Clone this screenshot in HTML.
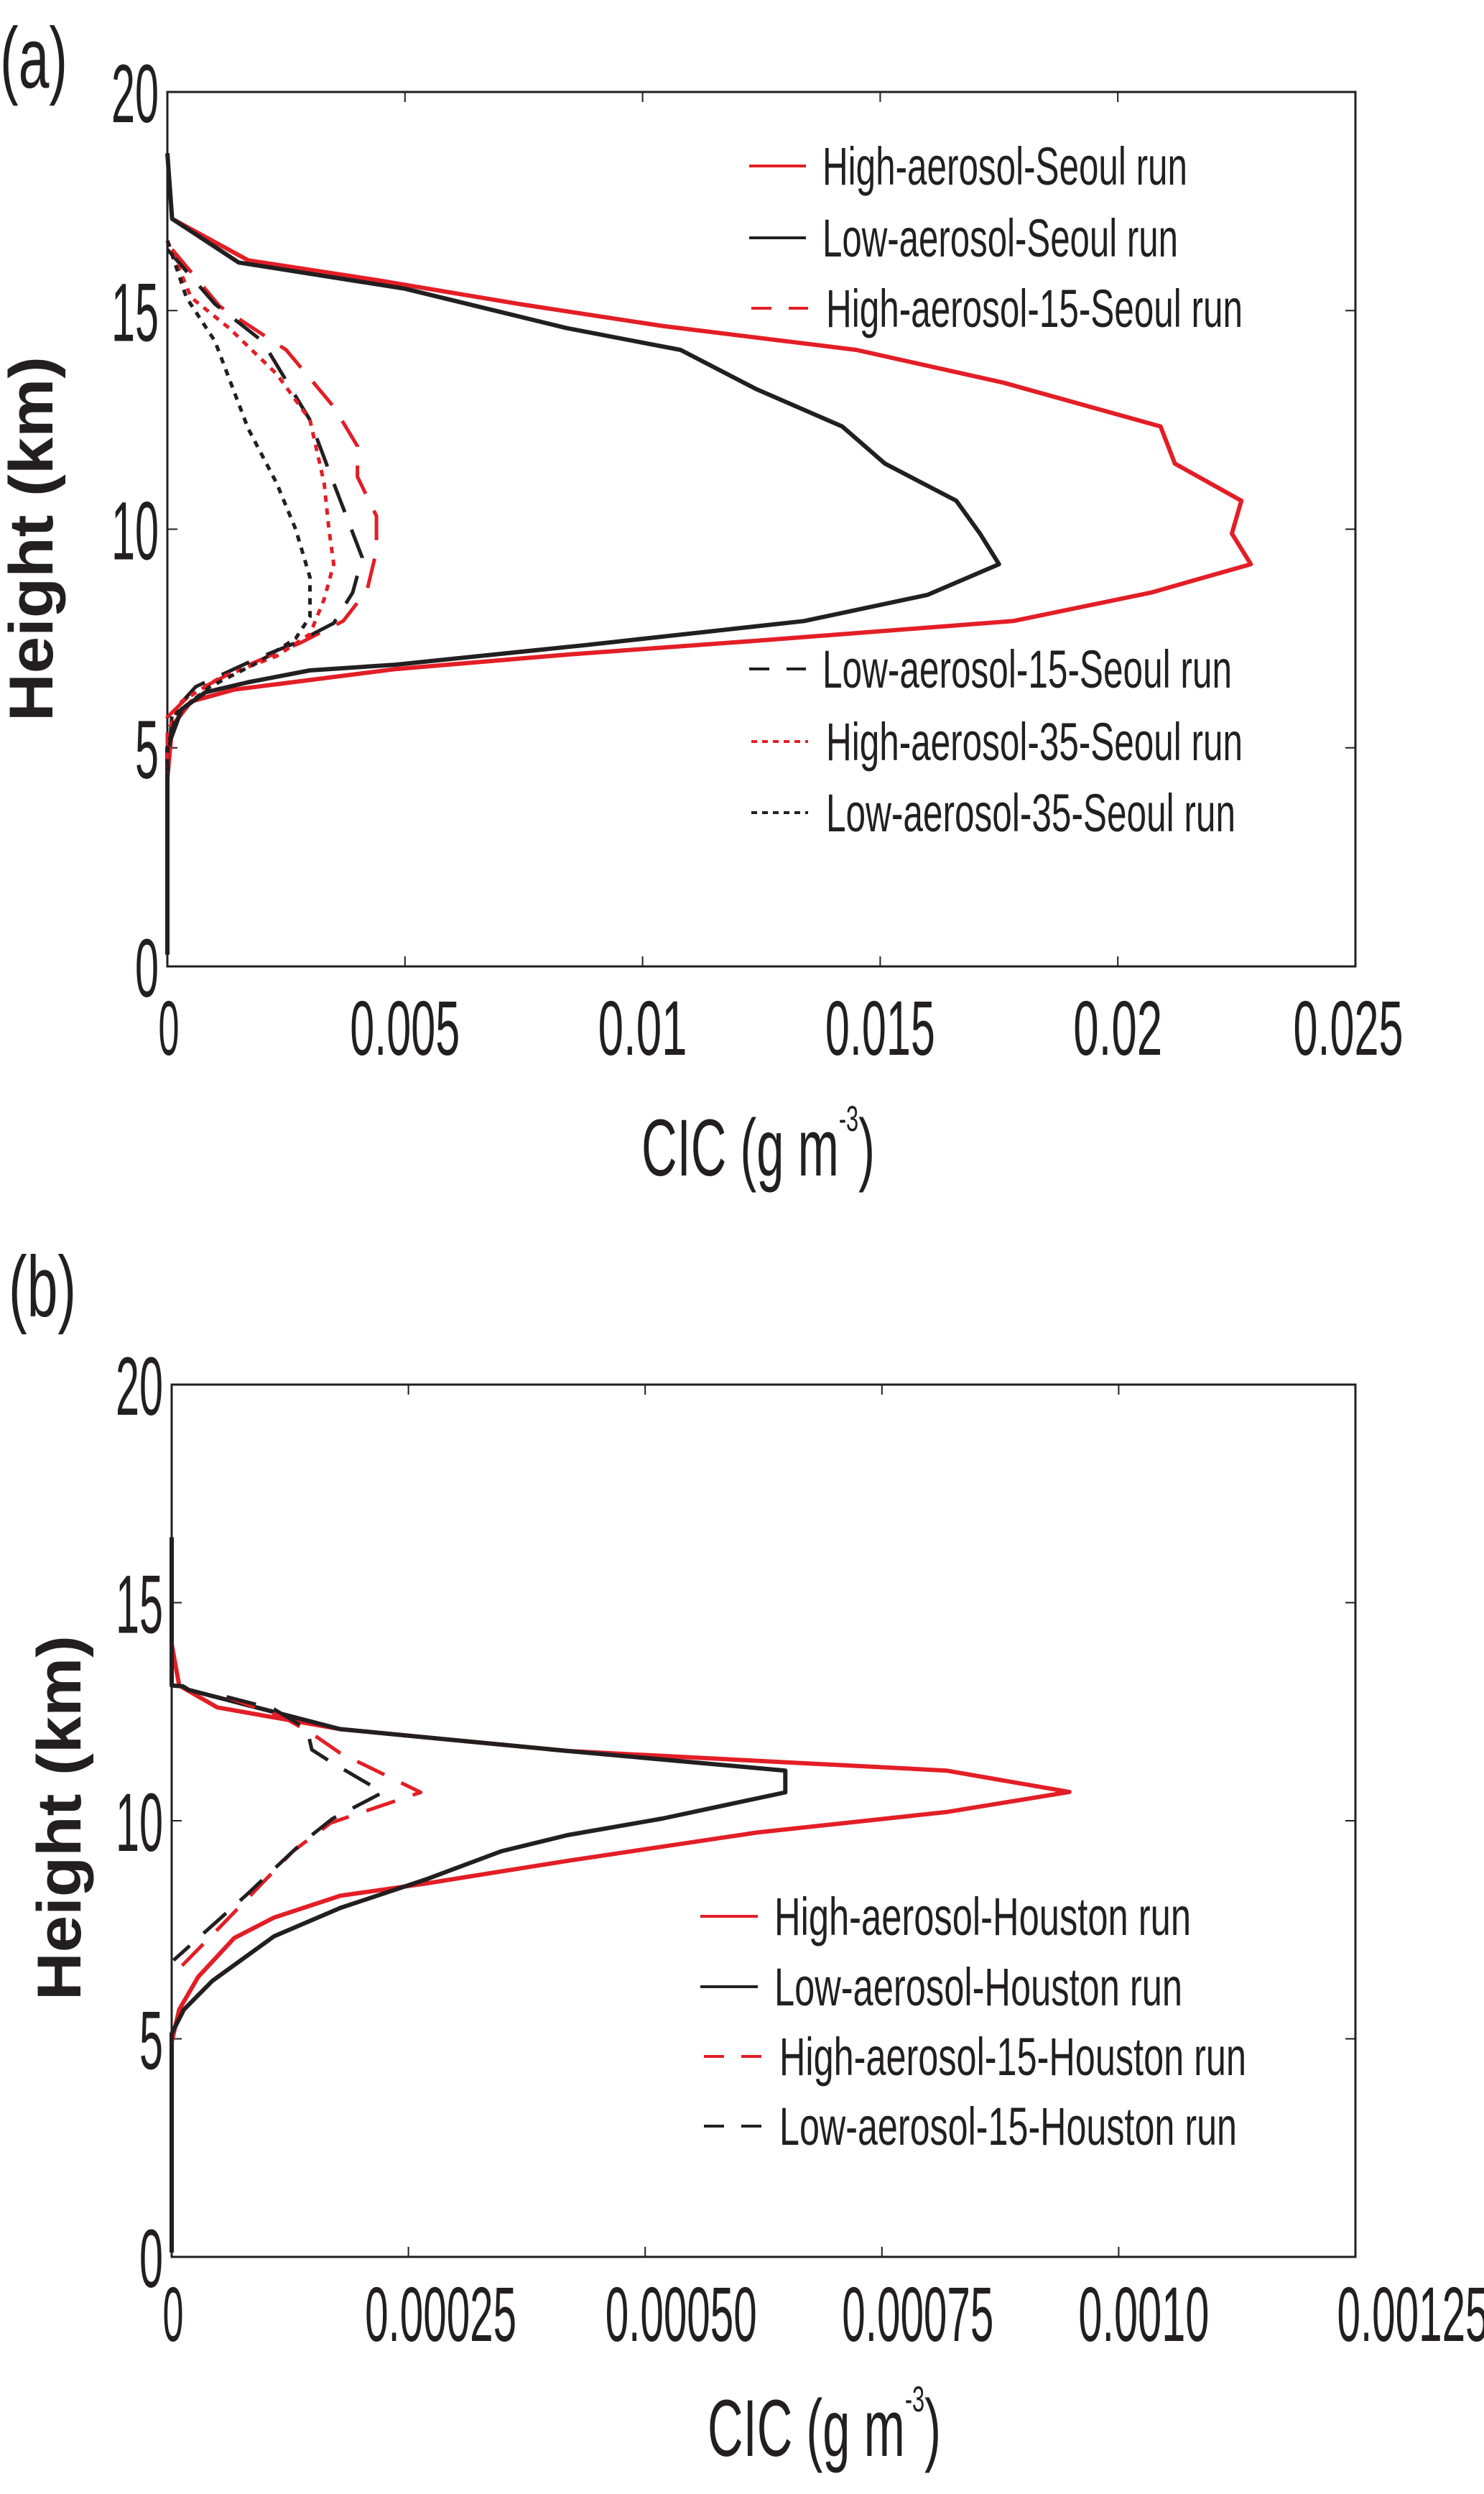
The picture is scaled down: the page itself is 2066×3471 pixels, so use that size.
<!DOCTYPE html>
<html><head><meta charset="utf-8">
<style>
html,body{margin:0;padding:0;background:#fff;}
svg{display:block;}
text{font-family:"Liberation Sans",sans-serif;fill:#231f20;}
</style></head>
<body>
<svg id="fig" width="2066" height="3471" viewBox="0 0 2066 3471" xmlns="http://www.w3.org/2000/svg">
<g id="pa"></g>
<g id="pb"></g>
</svg>
<script>
// ---- Panel (a) data ----
const aXTicks = [0, 0.005, 0.01, 0.015, 0.02, 0.025];
const aXTickLabels = ["0", "0.005", "0.01", "0.015", "0.02", "0.025"];
const aYTicks = [0, 5, 10, 15, 20];
const aYTickLabels = ["0", "5", "10", "15", "20"];
const aHighH = [17.1,16.15,15.7,15.15,14.65,14.1,13.35,12.35,11.5,10.65,9.9,9.2,8.55,7.9,7.45,7.13,6.8,6.55,6.33,6.06,5.5,4.3,0.27];
const aHighV = [0.0001,0.0017,0.0044,0.0074,0.0104,0.0145,0.0176,0.0209,0.0212,0.0226,0.0224,0.0228,0.0207,0.0178,0.0124,0.0084,0.0048,0.003,0.0014,0.0005,0.0001,0,0];
const aLowH = [18.6,17.1,16.1,15.5,14.6,14.1,13.2,12.35,11.5,10.65,9.9,9.2,8.5,7.9,7.35,6.9,6.77,6.5,6.27,5.88,5.0,0.27];
const aLowV = [0,0.0001,0.0015,0.005,0.0084,0.0108,0.0124,0.0142,0.0151,0.0166,0.0171,0.0175,0.016,0.0134,0.0088,0.0048,0.003,0.0017,0.0008,0.0003,0,0];
const aHigh15H = [16.4,15.1,14.1,12.8,11.9,11.2,10.3,9.5,8.6,7.9,7.4,6.8,6.24,5.7,4.3];
const aHigh15V = [0.0001,0.0011,0.0025,0.0035,0.004,0.004,0.0044,0.0044,0.0042,0.0037,0.0028,0.0015,0.0005,0,0];
const aLow15H = [16.4,15.15,14.3,12.5,11.05,9.35,8.55,7.85,7.4,7.05,6.4,5.8,4.3];
const aLow15V = [0,0.001,0.002,0.003,0.0035,0.0041,0.0039,0.0035,0.0027,0.0019,0.0006,0.0001,0];
const aHigh35H = [16.6,15.3,14.6,13.55,12.5,11.05,10.0,9.2,8.4,7.6,7.1,6.6,6.06,5.35,4.2];
const aHigh35V = [0,0.0005,0.0013,0.0023,0.003,0.0033,0.0034,0.0035,0.0033,0.003,0.0023,0.0011,0.0003,0,0];
const aLow35H = [16.6,15.3,14.3,12.3,11.05,10.0,8.9,8.0,7.5,6.95,6.4,5.8,5.0,0.27];
const aLow35V = [0,0.0004,0.001,0.0017,0.0023,0.0027,0.003,0.003,0.0027,0.0019,0.0009,0.0002,0,0];

// ---- Panel (b) data ----
const bXTicks = [0, 0.00025, 0.0005, 0.00075, 0.001, 0.00125];
const bXTickLabels = ["0", "0.00025", "0.00050", "0.00075", "0.0010", "0.00125"];
const bYTicks = [0, 5, 10, 15, 20];
const bYTickLabels = ["0", "5", "10", "15", "20"];
const bHighH = [15.9,14.05,13.1,12.6,12.1,11.6,11.15,10.66,10.2,9.73,9.08,8.56,8.28,7.78,7.31,6.42,5.67,4.93,0.1];
const bHighV = [0,0,0.000008,0.000048,0.000178,0.000418,0.000818,0.000948,0.000818,0.000618,0.000418,0.000268,0.000178,0.000108,0.000066,0.000028,0.000008,0,0];
const bLowH = [16.5,13.1,13.08,13.0,12.1,11.6,11.15,10.65,10.05,9.67,9.3,8.65,8.0,7.35,6.33,5.67,5.12,0.1];
const bLowV = [0,0,0.000012,0.000018,0.000178,0.000418,0.000648,0.000648,0.000518,0.000418,0.000348,0.000268,0.000178,0.000108,0.000043,0.000013,0,0];
const bHigh15H = [12.84,12.37,12.0,11.55,10.65,9.95,9.3,7.72,6.5];
const bHigh15V = [0.000058,0.000118,0.000148,0.000178,0.000263,0.000168,0.000128,0.000058,0.000003];
const bLow15H = [12.84,12.56,12.1,11.63,11.35,10.65,10.05,9.5,8.28,6.8];
const bLow15V = [0.000058,0.000108,0.000143,0.000148,0.000168,0.000223,0.00017,0.000138,0.000078,0.000002];

const NS = "http://www.w3.org/2000/svg";
function mk(parent, tag, attrs){ const e=document.createElementNS(NS,tag); for(const k in attrs) e.setAttribute(k,attrs[k]); parent.appendChild(e); return e; }

function drawPanel(g, P){
  const xs = v => P.x0 + (v - P.xmin)/(P.xmax-P.xmin)*(P.x1-P.x0);
  const ys = v => P.y0 - (v/20)*(P.y0-P.y1);
  const frame = mk(g,'rect',{x:P.x0,y:P.y1,width:P.x1-P.x0,height:P.y0-P.y1,fill:'none',stroke:'#231f20','stroke-width':3});
  
  
  P.xTicks.forEach((t,i)=>{
    const x=xs(t);
    const tk=mk(g,'path',{d:`M${x},${P.y0}v-14M${x},${P.y1}v14`,stroke:'#231f20','stroke-width':2});
    
    
    const lab=P.xTickLabels[i];
    const tx=mk(g,'text',{x:x+P.xLabOff[i],y:P.xLabY,'font-size':108,'text-anchor':'middle',textLength:lab.length*29+(lab.length>1?8:0),lengthAdjust:'spacingAndGlyphs'});
    tx.textContent=lab;
    
    
  });
  P.yTicks.forEach((t,i)=>{
    const y=ys(t);
    const tk=mk(g,'path',{d:`M${P.x0},${y}h14M${P.x1},${y}h-14`,stroke:'#231f20','stroke-width':2});
    
    
    const lab=P.yTickLabels[i];
    const tx=mk(g,'text',{x:P.x0-12,y:y+42,'font-size':115,'text-anchor':'end',textLength:lab.length*33,lengthAdjust:'spacingAndGlyphs'});
    tx.textContent=lab;
    
    
  });
  P.series.forEach(s=>{
    const d=s.h.map((h,i)=>(i?'L':'M')+xs(s.v[i]).toFixed(1)+','+ys(h).toFixed(1)).join('');
    const p=mk(g,'path',{d:d,fill:'none',stroke:s.c,'stroke-width':s.w,'stroke-dasharray':s.dash,'stroke-linejoin':'round'});
    
    
  });
  P.legend.forEach(L=>{
    const ln=mk(g,'line',{x1:L.lx0,x2:L.lx1,y1:L.y,y2:L.y,stroke:L.c,'stroke-width':4,'stroke-dasharray':L.dash});
    
    
    const tx=mk(g,'text',{x:L.tx,y:L.y+26,'font-size':74,textLength:L.tw,lengthAdjust:'spacingAndGlyphs'});
    tx.textContent=L.label;
    
    
  });
  const pl=mk(g,'text',{x:P.tag.x,y:P.tag.y,'font-size':120,textLength:P.tag.w,lengthAdjust:'spacingAndGlyphs'});
  pl.textContent=P.tag.t;
  
  
  const yt=mk(g,'text',{x:0,y:0,'font-size':86,'font-weight':'bold','text-anchor':'middle',textLength:508,lengthAdjust:'spacingAndGlyphs',transform:`translate(${P.yt.x},${P.yt.y}) rotate(-90)`});
  yt.textContent='Height (km)';
  
  
  const xt=mk(g,'text',{x:P.xt.x,y:P.xt.y,'font-size':112,textLength:325,lengthAdjust:'spacingAndGlyphs'});
  
  
  xt.innerHTML='CIC (g m<tspan dy="-62" font-size="50">-3</tspan><tspan dy="62">)</tspan>';
}

const RED='#e31e26', BLK='#231f20', LD='42 26', SD='9 9';
drawPanel(document.getElementById('pa'),{
  x0:233,x1:1887,y0:1345,y1:128,xmin:0,xmax:0.025,
  xTicks:aXTicks,xTickLabels:aXTickLabels,yTicks:aYTicks,yTickLabels:aYTickLabels,
  xLabOff:[2,0,0,0,0,-10],xLabY:1468,
  series:[
    {name:'high-aerosol-seoul-line',h:aHighH,v:aHighV,c:RED,w:6,dash:'none'},
    {name:'low-aerosol-seoul-line',h:aLowH,v:aLowV,c:BLK,w:6,dash:'none'},
    {name:'high-aerosol-15-seoul-line',h:aHigh15H,v:aHigh15V,c:RED,w:5,dash:LD},
    {name:'low-aerosol-15-seoul-line',h:aLow15H,v:aLow15V,c:BLK,w:5,dash:LD},
    {name:'high-aerosol-35-seoul-line',h:aHigh35H,v:aHigh35V,c:RED,w:5,dash:SD},
    {name:'low-aerosol-35-seoul-line',h:aLow35H,v:aLow35V,c:BLK,w:5,dash:SD}
  ],
  legend:[
    {label:'High-aerosol-Seoul run',y:231,lx0:1043,lx1:1122,c:RED,dash:'none',tx:1145,tw:508},
    {label:'Low-aerosol-Seoul run',y:331,lx0:1043,lx1:1122,c:BLK,dash:'none',tx:1145,tw:495},
    {label:'High-aerosol-15-Seoul run',y:429,lx0:1046,lx1:1125,c:RED,dash:'28 24',tx:1150,tw:580},
    {label:'Low-aerosol-15-Seoul run',y:931,lx0:1043,lx1:1122,c:BLK,dash:'28 24',tx:1145,tw:570},
    {label:'High-aerosol-35-Seoul run',y:1032,lx0:1046,lx1:1125,c:RED,dash:'8 7',tx:1150,tw:580},
    {label:'Low-aerosol-35-Seoul run',y:1131,lx0:1046,lx1:1125,c:BLK,dash:'8 7',tx:1150,tw:570}
  ],
  tag:{t:'(a)',x:0,y:122,w:94},
  yt:{x:73,y:750},xt:{x:893,y:1636}
});
drawPanel(document.getElementById('pb'),{
  x0:239,x1:1887,y0:3141,y1:1927,xmin:0,xmax:0.00125,
  xTicks:bXTicks,xTickLabels:bXTickLabels,yTicks:bYTicks,yTickLabels:bYTickLabels,
  xLabOff:[2,45,50,50,35,80],xLabY:3258,
  series:[
    {name:'high-aerosol-houston-line',h:bHighH,v:bHighV,c:RED,w:6,dash:'none'},
    {name:'low-aerosol-houston-line',h:bLowH,v:bLowV,c:BLK,w:6,dash:'none'},
    {name:'high-aerosol-15-houston-line',h:bHigh15H,v:bHigh15V,c:RED,w:5,dash:LD},
    {name:'low-aerosol-15-houston-line',h:bLow15H,v:bLow15V,c:BLK,w:5,dash:LD}
  ],
  legend:[
    {label:'High-aerosol-Houston run',y:2667,lx0:975,lx1:1055,c:RED,dash:'none',tx:1078,tw:580},
    {label:'Low-aerosol-Houston run',y:2765,lx0:975,lx1:1055,c:BLK,dash:'none',tx:1078,tw:568},
    {label:'High-aerosol-15-Houston run',y:2862,lx0:980,lx1:1060,c:RED,dash:'28 24',tx:1085,tw:650},
    {label:'Low-aerosol-15-Houston run',y:2959,lx0:980,lx1:1060,c:BLK,dash:'28 24',tx:1085,tw:637}
  ],
  tag:{t:'(b)',x:12,y:1832,w:94},
  yt:{x:112,y:2530},xt:{x:985,y:3418}
});
</script>
</body></html>
